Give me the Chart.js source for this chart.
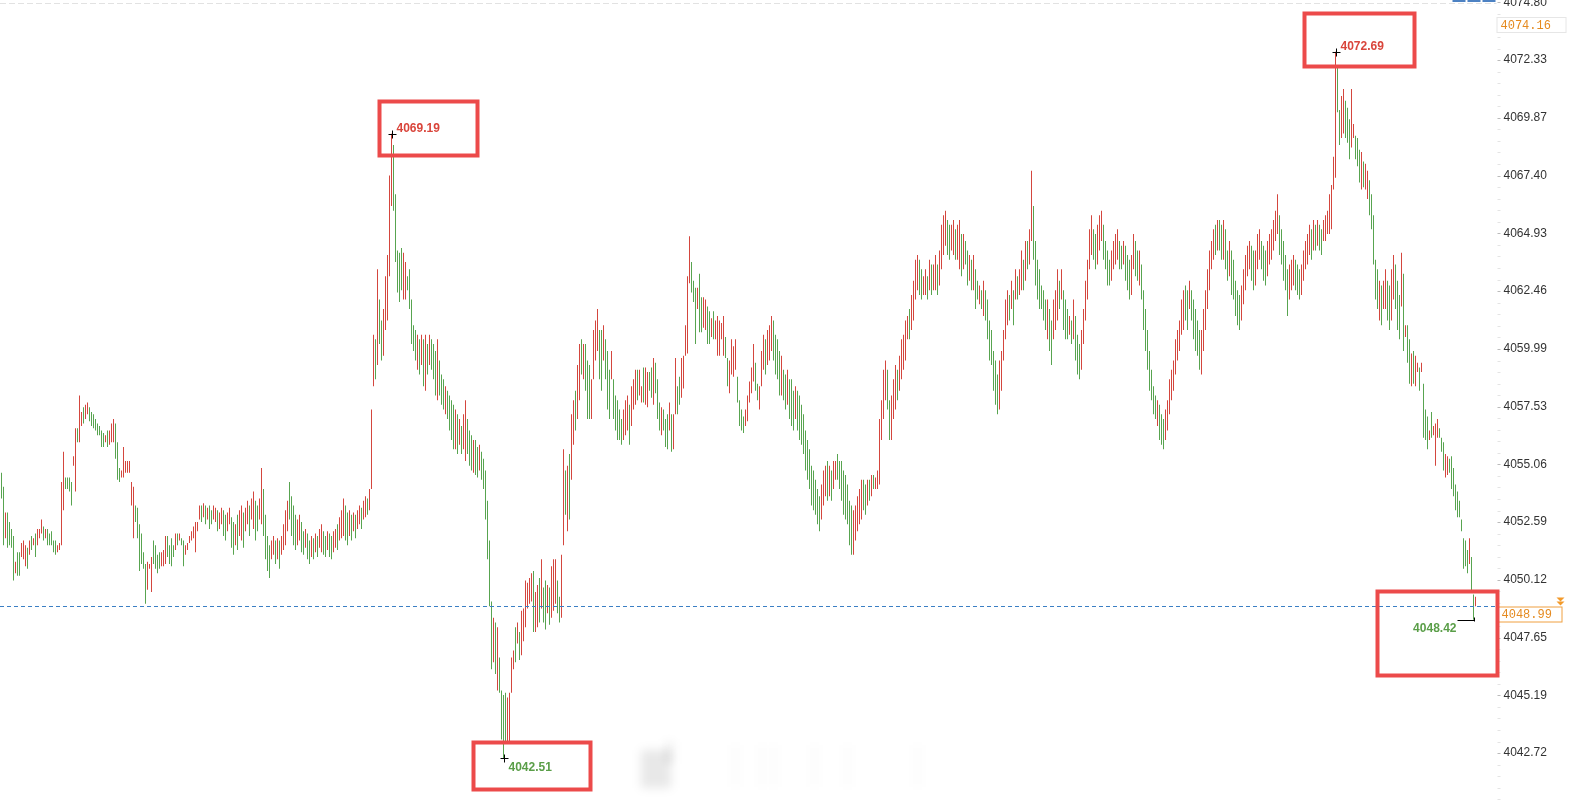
<!DOCTYPE html>
<html>
<head>
<meta charset="utf-8">
<script src="https://cdn.jsdelivr.net/npm/chart.js@4.4.1/dist/chart.umd.min.js"></script>
<style>
  html, body { margin: 0; padding: 0; background: #fff; }
  #wrap { position: relative; width: 1569px; height: 806px; }
</style>
</head>
<body>
<div id="wrap"><canvas id="chart"></canvas></div>
<script>
// bar highs / lows left to right (10 bars a row)
const highs = [
  4054.7,4054.1,4053.0,4053.0,4052.6,4052.3,4052.0,4050.9,4051.3,4051.3,
  4051.7,4051.8,4051.6,4051.5,4051.8,4052.0,4051.9,4052.1,4052.3,4052.3,
  4052.7,4052.4,4052.3,4052.3,4052.1,4052.2,4051.8,4051.8,4051.6,4051.7,
  4054.3,4055.6,4054.5,4054.5,4054.5,4054.3,4055.4,4056.6,4056.6,4058.0,
  4057.3,4057.5,4057.6,4057.7,4057.5,4057.3,4057.2,4057.0,4056.8,4056.7,
  4056.5,4056.4,4056.3,4056.5,4056.5,4056.8,4057.0,4056.8,4056.0,4054.9,
  4054.8,4055.8,4055.2,4055.2,4055.2,4054.3,4054.1,4053.3,4053.2,4052.5,
  4052.1,4051.3,4050.8,4050.9,4050.8,4051.1,4051.8,4051.6,4051.2,4051.3,
  4051.3,4051.4,4052.0,4052.0,4051.6,4051.9,4051.6,4052.1,4052.1,4052.1,
  4051.9,4051.8,4051.6,4051.7,4052.0,4052.2,4052.4,4052.6,4052.6,4053.3,
  4053.3,4053.4,4053.3,4053.2,4053.3,4053.1,4053.3,4053.2,4053.1,4053.0,
  4053.2,4053.1,4052.9,4053.0,4053.2,4052.8,4052.6,4052.5,4052.9,4053.1,
  4053.3,4053.0,4053.2,4053.5,4053.3,4053.6,4053.9,4053.5,4053.3,4053.6,
  4054.9,4054.0,4052.9,4052.0,4051.6,4051.8,4052.0,4051.8,4051.9,4051.8,
  4052.0,4052.5,4053.1,4053.5,4054.3,4053.7,4053.3,4052.9,4052.7,4052.9,
  4052.6,4052.2,4052.3,4052.1,4051.8,4052.0,4051.9,4052.1,4052.0,4052.3,
  4052.5,4052.2,4052.0,4052.2,4052.1,4052.0,4052.2,4052.3,4052.5,4052.8,
  4053.1,4053.6,4053.3,4053.0,4053.1,4052.9,4053.0,4052.9,4053.1,4053.3,
  4053.2,4053.5,4053.7,4053.6,4054.0,4057.4,4060.6,4060.4,4063.4,4062.1,
  4061.2,4061.7,4063.1,4064.0,4067.4,4069.19,4068.7,4066.6,4064.2,4064.1,
  4064.3,4064.1,4063.7,4063.1,4063.4,4062.1,4061.0,4060.8,4060.6,4060.4,
  4060.6,4060.4,4060.6,4060.2,4060.6,4060.4,4060.2,4059.9,4060.4,4059.5,
  4058.9,4058.7,4058.4,4058.2,4058.0,4057.8,4057.6,4057.4,4057.2,4057.0,
  4056.7,4057.2,4057.8,4057.0,4056.5,4056.3,4056.1,4056.1,4055.8,4055.9,
  4055.6,4055.3,4054.8,4053.5,4051.8,4049.2,4048.5,4048.3,4048.1,4046.8,
  4045.4,4045.2,4045.3,4045.1,4045.3,4046.8,4047.1,4048.1,4048.3,4047.9,
  4048.8,4048.9,4050.1,4050.0,4050.2,4050.4,4050.5,4049.6,4049.9,4050.2,
  4051.0,4049.8,4050.1,4049.9,4049.8,4050.7,4051.0,4051.0,4050.1,4049.4,
  4051.2,4055.7,4054.8,4055.0,4055.5,4057.2,4057.8,4058.2,4059.3,4060.2,
  4060.4,4060.2,4060.2,4059.5,4059.3,4058.7,4060.8,4061.2,4061.7,4060.8,
  4060.8,4061.0,4060.4,4059.9,4059.1,4059.9,4058.7,4058.0,4057.8,4057.4,
  4057.0,4057.4,4057.8,4058.0,4057.6,4058.4,4058.7,4059.1,4059.1,4059.1,
  4058.4,4059.2,4059.2,4059.0,4059.0,4059.2,4059.6,4059.4,4058.7,4057.7,
  4057.5,4057.4,4057.0,4057.2,4057.7,4057.2,4057.2,4059.6,4058.4,4058.8,
  4059.6,4059.7,4061.0,4063.1,4064.8,4063.7,4062.9,4062.6,4062.6,4063.2,
  4062.2,4062.2,4062.1,4061.8,4061.6,4061.3,4061.6,4061.2,4061.4,4061.2,
  4061.1,4061.4,4060.5,4059.6,4059.5,4060.4,4060.1,4060.4,4058.8,4057.8,
  4057.4,4057.1,4057.4,4058.0,4058.6,4059.2,4060.2,4059.4,4058.5,4058.4,
  4059.9,4060.6,4060.4,4060.8,4061.0,4061.4,4061.2,4060.6,4060.4,4059.9,
  4059.7,4059.1,4058.9,4059.1,4058.7,4058.7,4058.2,4058.4,4058.2,4058.0,
  4057.6,4057.2,4056.5,4056.1,4055.7,4055.0,4054.8,4054.4,4054.0,4053.7,
  4054.2,4054.8,4055.0,4055.2,4055.0,4054.8,4055.2,4055.2,4055.5,4055.2,
  4055.2,4054.8,4054.6,4054.2,4053.5,4053.3,4053.1,4053.3,4053.7,4054.0,
  4054.4,4054.4,4054.2,4054.4,4054.4,4054.6,4054.6,4054.5,4054.8,4057.0,
  4057.8,4059.1,4059.5,4059.1,4057.8,4058.0,4058.7,4059.3,4059.1,4059.7,
  4060.4,4060.6,4061.2,4061.4,4061.7,4062.3,4062.9,4063.8,4064.0,4063.8,
  4063.4,4063.1,4063.4,4063.1,4063.8,4063.6,4063.6,4064.0,4063.6,4064.2,
  4065.3,4065.7,4065.9,4065.5,4065.3,4065.3,4065.5,4065.1,4065.3,4065.5,
  4064.9,4064.9,4064.6,4064.2,4064.0,4063.8,4064.0,4063.4,4062.9,4062.7,
  4062.5,4062.9,4062.5,4062.1,4061.2,4060.8,4059.9,4059.5,4058.9,4059.5,
  4059.9,4060.8,4062.1,4062.5,4062.3,4062.9,4062.5,4063.4,4063.1,4063.4,
  4064.2,4063.8,4064.6,4064.6,4065.1,4067.6,4066.1,4064.6,4063.8,4063.4,
  4062.7,4062.5,4062.1,4062.1,4061.7,4061.2,4062.1,4062.5,4063.4,4062.9,
  4063.4,4062.5,4062.1,4061.7,4061.4,4061.2,4062.1,4061.4,4060.6,4060.2,
  4060.8,4061.7,4062.9,4063.8,4065.1,4065.7,4065.1,4064.9,4065.3,4065.7,
  4065.9,4065.3,4064.6,4064.2,4063.8,4064.2,4064.6,4064.9,4065.1,4064.6,
  4064.4,4064.6,4064.4,4064.0,4063.8,4064.0,4064.9,4064.6,4064.2,4064.2,
  4063.6,4062.5,4061.7,4060.8,4059.9,4059.1,4058.4,4058.0,4057.8,4057.6,
  4057.2,4057.0,4057.4,4057.8,4058.7,4059.1,4059.5,4060.4,4060.8,4061.2,
  4062.1,4062.5,4062.7,4062.5,4062.9,4062.5,4062.1,4061.7,4061.2,4060.8,
  4060.8,4061.7,4062.5,4063.4,4064.2,4064.6,4065.1,4065.3,4065.5,4065.5,
  4065.3,4065.5,4065.1,4064.2,4064.6,4064.2,4063.8,4062.9,4062.5,4062.3,
  4062.7,4063.4,4064.0,4064.4,4064.6,4064.4,4064.2,4064.2,4064.9,4065.1,
  4064.6,4064.4,4064.2,4064.6,4064.9,4065.1,4065.5,4065.9,4066.6,4065.7,
  4065.1,4064.6,4064.0,4063.4,4063.6,4063.8,4064.0,4063.8,4063.6,4063.4,
  4063.6,4064.2,4064.6,4064.9,4065.3,4065.1,4065.5,4065.3,4065.5,4065.3,
  4065.1,4065.5,4065.7,4065.9,4066.6,4067.0,4068.2,4072.69,4072.0,4070.2,
  4070.8,4071.1,4070.6,4070.3,4069.8,4071.1,4069.6,4069.1,4069.0,4068.5,
  4068.4,4068.0,4067.9,4067.6,4067.2,4066.6,4065.7,4063.8,4063.4,4062.9,
  4062.7,4062.9,4063.4,4062.9,4062.7,4063.4,4064.0,4063.6,4062.9,4062.3,
  4064.1,4063.2,4061.0,4061.0,4060.4,4059.8,4059.9,4059.7,4059.4,4059.2,
  4059.4,4058.5,4057.4,4057.1,4056.5,4057.3,4056.7,4056.8,4057.0,4056.6,
  4056.2,4056.0,4055.5,4055.4,4055.3,4055.4,4054.9,4054.2,4053.9,4053.5,
  4052.7,4051.9,4051.8,4051.4,4051.9,4051.1,4049.5,4049.4
];
const lows = [
  4053.6,4051.6,4051.9,4051.5,4051.6,4051.5,4050.1,4050.4,4050.3,4050.3,
  4051.1,4051.0,4050.7,4050.6,4051.2,4051.4,4051.6,4051.1,4051.6,4051.9,
  4052.1,4051.8,4051.9,4051.6,4051.6,4051.6,4051.3,4051.2,4051.3,4051.4,
  4051.6,4053.1,4054.0,4054.0,4053.9,4053.3,4055.0,4053.9,4056.0,4056.0,
  4056.7,4056.8,4057.0,4057.2,4056.9,4056.7,4056.6,4056.5,4056.3,4056.3,
  4055.8,4055.8,4056.0,4055.8,4055.9,4056.0,4056.0,4055.3,4054.4,4054.3,
  4054.5,4054.5,4054.7,4054.7,4054.7,4053.3,4051.9,4052.6,4051.9,4050.5,
  4050.8,4050.6,4049.1,4049.7,4050.6,4049.6,4050.8,4050.6,4050.4,4050.6,
  4050.7,4050.7,4050.8,4051.1,4050.8,4050.7,4051.1,4051.4,4051.6,4051.8,
  4051.6,4050.7,4051.2,4051.4,4051.7,4051.8,4051.9,4051.3,4052.2,4052.7,
  4052.6,4052.8,4052.5,4052.7,4052.3,4052.5,4052.7,4052.6,4052.2,4052.3,
  4052.5,4052.0,4051.8,4052.2,4052.5,4051.5,4051.2,4051.6,4051.4,4052.0,
  4051.8,4051.5,4052.2,4052.5,4052.0,4052.7,4052.3,4051.8,4052.2,4052.7,
  4052.5,4052.0,4051.0,4050.5,4050.2,4051.0,4051.2,4050.8,4051.0,4050.6,
  4051.2,4051.4,4051.6,4052.2,4052.7,4052.0,4051.6,4051.4,4051.6,4051.8,
  4051.3,4051.2,4051.5,4051.0,4050.8,4051.1,4051.0,4051.3,4051.1,4051.5,
  4051.3,4051.2,4051.1,4051.4,4051.1,4051.0,4051.3,4051.5,4051.4,4051.8,
  4051.9,4052.0,4051.8,4051.6,4052.0,4051.8,4052.2,4051.9,4052.3,4052.5,
  4052.3,4052.7,4052.8,4052.9,4053.1,4054.0,4058.4,4058.7,4059.3,4060.2,
  4059.5,4059.7,4060.8,4061.2,4063.1,4066.1,4065.9,4063.7,4062.4,4062.0,
  4062.5,4062.1,4062.1,4062.5,4061.7,4060.2,4059.9,4059.5,4059.1,4058.9,
  4059.3,4058.4,4058.2,4058.9,4059.3,4059.1,4058.7,4058.0,4057.8,4058.0,
  4057.6,4057.4,4057.2,4057.0,4056.5,4056.1,4055.7,4055.7,4055.5,4055.9,
  4055.5,4055.7,4055.2,4055.5,4055.0,4054.8,4054.7,4054.6,4054.5,4054.8,
  4054.4,4054.0,4052.7,4051.0,4049.0,4046.3,4046.6,4046.1,4045.4,4045.3,
  4043.3,4042.51,4043.2,4043.2,4043.2,4045.3,4046.3,4046.6,4047.4,4046.7,
  4046.9,4047.5,4048.1,4048.9,4049.1,4049.2,4047.9,4047.9,4048.1,4048.3,
  4048.9,4048.3,4048.0,4048.7,4048.2,4048.5,4048.8,4049.1,4048.7,4048.3,
  4048.5,4051.6,4052.9,4052.2,4052.7,4054.4,4055.9,4056.5,4057.0,4057.8,
  4058.9,4058.7,4058.2,4057.0,4057.0,4057.0,4058.7,4059.5,4059.9,4058.7,
  4058.2,4059.5,4058.7,4057.4,4057.0,4058.7,4057.0,4056.5,4056.1,4056.1,
  4055.9,4056.1,4056.3,4056.5,4055.9,4056.7,4057.4,4057.6,4057.8,4058.0,
  4057.7,4057.7,4057.6,4057.5,4058.2,4057.9,4057.6,4058.1,4057.0,4056.5,
  4056.3,4056.5,4055.8,4055.7,4056.5,4055.6,4055.7,4057.2,4057.2,4057.6,
  4057.9,4058.3,4059.7,4059.8,4062.8,4062.4,4062.0,4060.2,4061.7,4060.7,
  4060.7,4060.9,4060.8,4060.2,4060.2,4060.5,4060.4,4060.4,4059.7,4059.7,
  4060.4,4059.7,4059.6,4058.4,4058.1,4058.9,4058.8,4059.1,4057.7,4056.7,
  4056.5,4056.4,4056.7,4056.9,4057.7,4058.1,4058.6,4058.2,4057.8,4057.4,
  4058.4,4059.1,4058.9,4059.3,4059.5,4059.9,4059.5,4058.9,4058.7,4058.0,
  4058.0,4057.8,4057.4,4057.6,4057.0,4056.7,4056.5,4057.0,4056.5,4056.1,
  4055.9,4055.5,4054.8,4054.4,4054.0,4053.3,4053.1,4052.9,4052.5,4052.2,
  4052.7,4053.3,4053.7,4053.5,4053.7,4053.5,4054.0,4054.4,4054.4,4054.0,
  4053.5,4052.9,4052.7,4052.5,4051.6,4051.2,4051.2,4051.8,4052.2,4052.5,
  4052.7,4053.1,4052.9,4053.3,4053.5,4053.7,4054.0,4054.0,4054.0,4054.2,
  4056.1,4057.0,4057.8,4057.4,4056.1,4056.1,4057.0,4057.4,4057.8,4058.2,
  4058.7,4059.1,4059.5,4060.4,4060.4,4060.8,4061.2,4062.1,4062.5,4062.3,
  4062.1,4062.3,4062.3,4062.1,4062.5,4062.3,4062.5,4062.5,4062.3,4062.7,
  4063.4,4064.0,4064.4,4064.0,4063.8,4064.2,4064.0,4063.8,4063.8,4063.4,
  4063.1,4063.4,4063.6,4062.7,4062.9,4062.5,4062.5,4061.7,4062.1,4061.9,
  4061.7,4061.4,4061.2,4060.4,4059.5,4059.3,4058.2,4057.6,4057.2,4057.4,
  4058.2,4059.5,4060.4,4061.0,4061.2,4061.7,4061.0,4062.1,4062.1,4062.3,
  4062.5,4062.5,4062.9,4063.4,4063.6,4064.6,4063.8,4062.7,4062.1,4061.7,
  4061.7,4061.2,4060.8,4060.4,4059.9,4059.3,4060.4,4060.8,4061.2,4061.7,
  4062.1,4060.8,4060.4,4060.4,4060.6,4060.2,4060.4,4059.5,4058.9,4058.7,
  4059.1,4060.2,4061.2,4062.1,4063.4,4064.0,4063.8,4063.4,4063.6,4064.2,
  4064.6,4063.8,4063.4,4062.7,4062.7,4062.9,4063.4,4063.6,4063.8,4063.4,
  4063.4,4063.6,4062.9,4062.5,4062.1,4062.3,4063.4,4063.1,4062.9,4062.7,
  4062.1,4060.8,4059.9,4059.1,4058.2,4057.8,4057.2,4057.0,4056.7,4056.1,
  4055.9,4055.7,4056.1,4056.5,4057.2,4057.8,4058.2,4058.9,4059.5,4059.9,
  4060.6,4060.8,4061.2,4060.8,4061.7,4061.2,4060.4,4059.9,4059.7,4059.1,
  4058.9,4059.9,4060.8,4061.7,4062.5,4063.4,4063.8,4064.0,4064.2,4064.2,
  4063.8,4063.8,4063.4,4062.9,4063.1,4062.3,4062.1,4061.4,4061.0,4060.8,
  4061.2,4061.9,4062.5,4063.1,4063.4,4062.9,4062.5,4062.7,4063.4,4063.8,
  4063.4,4062.9,4062.7,4063.1,4063.6,4063.8,4064.2,4064.6,4064.9,4064.0,
  4063.6,4062.9,4062.5,4061.4,4062.1,4062.5,4062.7,4062.5,4062.3,4062.1,
  4062.3,4062.9,4063.4,4063.6,4064.0,4063.8,4064.2,4064.2,4064.4,4064.2,
  4064.0,4064.6,4064.6,4064.9,4064.9,4065.1,4066.8,4067.3,4070.1,4068.7,
  4069.0,4069.2,4069.0,4068.8,4068.1,4068.6,4069.0,4068.1,4067.8,4067.1,
  4066.8,4066.9,4066.8,4066.4,4065.7,4065.1,4063.6,4062.1,4061.7,4061.2,
  4061.0,4061.7,4061.7,4061.2,4060.8,4061.2,4062.1,4061.7,4060.8,4060.4,
  4061.8,4059.9,4060.5,4059.4,4058.5,4058.4,4058.5,4058.4,4059.0,4058.2,
  4059.0,4056.2,4056.1,4055.7,4056.1,4056.2,4056.3,4055.0,4056.2,4056.2,
  4055.6,4054.8,4054.5,4054.6,4054.7,4054.0,4053.7,4053.1,4052.8,4052.8,
  4052.2,4050.6,4050.7,4050.4,4050.8,4049.6,4048.42,4049.0
];
// r = up bar (red), g = down bar (green)
const updown = [
  "ggrggggrgg", "rrrgrgrgrr", "rgrgggggrr", "rrggggrrgr", "rgrrgggggg",
  "ggrgrrrggg", "rrrrrrrggg", "gggrrrgggg", "rrrggggrgr", "ggrrrrrrrr",
  "grgrggrrgr", "rggrrggrgr", "rgrrgrrggr", "rggggrrgrg", "rrrrggggrr",
  "ggrggrgrgr", "rggrggrrgr", "rrggrgrgrr", "grrgrrrgrg", "grrrrrgggg",
  "grrgggggrg", "rgrgrgggrg", "ggrggggrgr", "grrgggrggr", "ggggggrgrg",
  "gggrrrrgrg", "rrrrrrgrrg", "rggrgrrrgg", "rrgrgrrgrr", "grgggrrrrg",
  "grgggrgggg", "grrrgrrrgr", "rgrrggrggg", "rgggrgrrgg", "rrrrrgggrg",
  "grrggrgrrr", "rrggrrrrgg", "ggrrrrrggr", "rrgrrrgggg", "rggrgggrgg",
  "gggggggggg", "rrrgrgrrgg", "ggggggrrrr", "rggrgrgrrr", "rrrggrrrgr",
  "rrrrgrrrrg", "grrgrgrrgr", "rrrggrrgrr", "grggrgrggr", "grgggggggr",
  "rrrrgrgrgr", "rgrgrrgggg", "gggrggrrrg", "rgggrgrggg", "rrrrrrggrr",
  "rggggrrrrg", "grgggrrggr", "ggggggggrg", "ggrrrrrrrr", "rrggrggggg",
  "rrrrrrrgrg", "grggrggggg", "rrrrrggrrr", "gggrrrrrrg", "ggggrrrggg",
  "rrrrrgrgrg", "grrrrrrrgg", "rrgggrrggg", "rgrrgggggr", "grrggrrggg",
  "rgrggrgrrg", "rgggrgrrrg", "ggrrgggggg", "ggggrggr"
].join('').split('');

const yTicks = [4074.80, 4072.33, 4069.87, 4067.40, 4064.93, 4062.46, 4059.99,
  4057.53, 4055.06, 4052.59, 4050.12, 4047.65, 4045.19, 4042.72];
const lastPrice = 4048.99;
const topPrice = 4074.16;

// marked extremes: bar index, value, kind
const markIdx = [195, 667, 251, 736];
const markVal = [4069.19, 4072.69, 4042.51, 4048.42];
const markKind = ['high', 'high', 'low', 'lowLeft'];

const SLOTS = 748;
const labels = Array.from({ length: SLOTS }, (_, i) => i);
const RED = '#d4463e', GREEN = '#58a450';
const barColor = c => updown[c.dataIndex] === 'r' ? RED : GREEN;

const overlay = {
  id: 'overlay',
  beforeDatasetsDraw(chart) {
    const { ctx, chartArea: a } = chart;
    ctx.save();
    // top dashed grid line
    ctx.strokeStyle = '#e2e2e2';
    ctx.lineWidth = 1;
    ctx.setLineDash([6, 3]);
    ctx.beginPath(); ctx.moveTo(0, 3.5); ctx.lineTo(a.right, 3.5); ctx.stroke();
    ctx.setLineDash([]);
    // faint blurred watermark near the bottom
    ctx.filter = 'blur(5px)';
    ctx.fillStyle = 'rgba(0,0,0,0.09)';
    ctx.fillRect(641, 750, 30, 38);
    ctx.fillStyle = 'rgba(0,0,0,0.06)';
    ctx.fillRect(664, 742, 10, 22);
    ctx.fillStyle = 'rgba(0,0,0,0.025)';
    for (const sx of [733, 760, 771, 812, 845, 915]) ctx.fillRect(sx, 745, 5, 42);
    ctx.filter = 'none';
    ctx.restore();
  },
  afterDatasetsDraw(chart) {
    const { ctx, chartArea: a, scales: { x, y } } = chart;
    ctx.save();
    // last price dashed line
    const ly = Math.round(y.getPixelForValue(lastPrice)) + 0.5;
    ctx.strokeStyle = '#3b7fc4';
    ctx.lineWidth = 1;
    ctx.setLineDash([4, 3]);
    ctx.beginPath(); ctx.moveTo(0, ly); ctx.lineTo(a.right, ly); ctx.stroke();
    ctx.setLineDash([]);

    // axis minor ticks
    const step = yTicks[0] - yTicks[1];
    for (let k = 0; k < yTicks.length; k++) {
      for (let m = 0; m < 5; m++) {
        const py = Math.round(y.getPixelForValue(yTicks[k] - m * step / 5)) + 0.5;
        ctx.strokeStyle = m === 0 ? '#bbb' : '#e4e4e4';
        ctx.beginPath(); ctx.moveTo(a.right + 1, py); ctx.lineTo(a.right + 4, py); ctx.stroke();
      }
    }

    // price boxes on the axis
    ctx.font = '12px "Liberation Mono", monospace';
    ctx.textBaseline = 'middle';
    ctx.textAlign = 'left';
    const ty = Math.round(y.getPixelForValue(topPrice));
    ctx.fillStyle = '#fff';
    ctx.strokeStyle = '#e6e6e6';
    ctx.fillRect(a.right, ty, 70, 15);
    ctx.strokeRect(a.right + 0.5, ty + 0.5, 69, 15);
    ctx.fillStyle = '#e58a1f';
    ctx.fillText(topPrice.toFixed(2), a.right + 4, ty + 8.5);

    ctx.fillStyle = '#fff';
    ctx.strokeStyle = '#f0a040';
    ctx.fillRect(a.right + 1, ly, 65, 15);
    ctx.strokeRect(a.right + 1.5, ly + 0.5, 64, 15);
    ctx.fillStyle = '#e58a1f';
    ctx.fillText(lastPrice.toFixed(2), a.right + 5, ly + 8.5);
    // double triangle marker
    ctx.fillStyle = '#f39a2a';
    for (const dy of [-9, -5]) {
      ctx.beginPath();
      ctx.moveTo(a.right + 60, ly + dy);
      ctx.lineTo(a.right + 68, ly + dy);
      ctx.lineTo(a.right + 64, ly + dy + 4);
      ctx.closePath(); ctx.fill();
    }

    // small blue tabs top right
    ctx.fillStyle = '#4d82c3';
    ctx.fillRect(a.right - 44, 0, 13, 2);
    ctx.fillRect(a.right - 29, 0, 13, 2);
    ctx.fillRect(a.right - 14, 0, 13, 2);

    // extreme markers with their red frames
    const frames = [[-13, -33, 98, 54], [-32, -39, 110, 53], [-31, -16, 117, 47], [-97, -29, 120, 84]];
    ctx.font = 'bold 12px "Liberation Sans", Arial, sans-serif';
    markIdx.forEach((idx, k) => {
      const px = Math.round(x.getPixelForValue(idx)) + 0.5;
      const py = Math.round(y.getPixelForValue(markVal[k])) + 0.5;
      const kind = markKind[k];
      ctx.strokeStyle = '#000';
      ctx.lineWidth = 1;
      ctx.beginPath();
      if (kind === 'lowLeft') {
        ctx.moveTo(px - 17, py); ctx.lineTo(px, py);
        ctx.moveTo(px, py - 3); ctx.lineTo(px, py + 1);
      } else {
        ctx.moveTo(px - 4, py); ctx.lineTo(px + 4, py);
        ctx.moveTo(px, py - 4); ctx.lineTo(px, py + 4);
      }
      ctx.stroke();
      ctx.textBaseline = 'middle';
      if (kind === 'high') {
        ctx.fillStyle = '#d9453b';
        ctx.textAlign = 'left';
        ctx.fillText(markVal[k].toFixed(2), px + 4, py - 6);
      } else if (kind === 'low') {
        ctx.fillStyle = '#5a9e48';
        ctx.textAlign = 'left';
        ctx.fillText(markVal[k].toFixed(2), px + 4, py + 9);
      } else {
        ctx.fillStyle = '#5a9e48';
        ctx.textAlign = 'right';
        ctx.fillText(markVal[k].toFixed(2), px - 18, py + 8);
      }
      const f = frames[k];
      ctx.strokeStyle = '#ec4a4a';
      ctx.lineWidth = 4;
      ctx.strokeRect(px + f[0], py + f[1], f[2], f[3]);
    });
    ctx.restore();
  }
};

new Chart(document.getElementById('chart'), {
  type: 'bar',
  data: {
    labels,
    datasets: [{
      data: lows.map((l, i) => [l, highs[i]]),
      backgroundColor: barColor,
      borderColor: barColor,
      borderWidth: 0,
      barThickness: 1,
      inflateAmount: 0
    }]
  },
  options: {
    responsive: true,
    maintainAspectRatio: false,
    animation: false,
    layout: { padding: { left: 0.5, top: 0, right: 0, bottom: 0 } },
    plugins: { legend: { display: false }, tooltip: { enabled: false } },
    scales: {
      x: { display: false },
      y: {
        position: 'right',
        min: 4040.46,
        max: 4074.90,
        afterBuildTicks: s => { s.ticks = yTicks.map(v => ({ value: v })); },
        afterFit: s => { s.width = 72.5; s.paddingTop = 0; s.paddingBottom = 0; },
        grid: { display: false, drawTicks: false },
        border: { display: false },
        ticks: {
          padding: 7,
          color: '#333',
          font: { family: '"Liberation Sans", Arial, sans-serif', size: 12 },
          callback: v => v.toFixed(2)
        }
      }
    }
  },
  plugins: [overlay]
});
</script>
</body>
</html>
